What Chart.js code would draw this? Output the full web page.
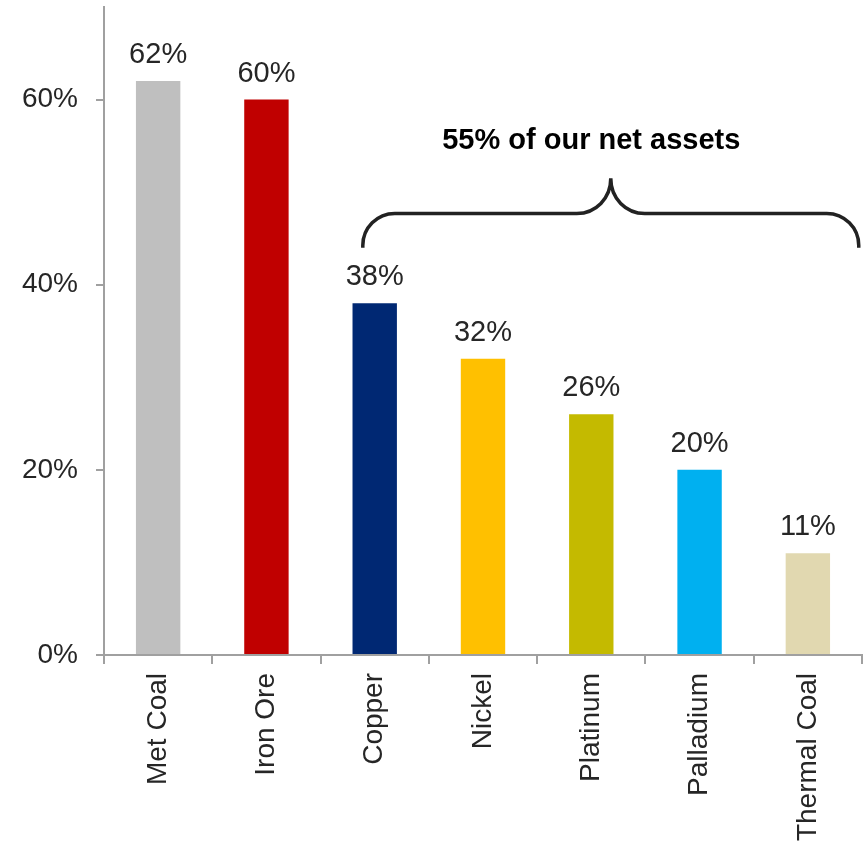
<!DOCTYPE html>
<html>
<head>
<meta charset="utf-8">
<script src="https://cdn.jsdelivr.net/npm/chart.js@4.4.1/dist/chart.umd.min.js"></script>
<style>
  html, body { margin: 0; padding: 0; background: #fff; }
  #wrap { width: 867px; height: 852px; }
</style>
</head>
<body>
<div id="wrap"><canvas id="myChart" width="867" height="852"></canvas></div>
<script>
  'use strict'

  const commodities = ['Met Coal', 'Iron Ore', 'Copper', 'Nickel', 'Platinum', 'Palladium', 'Thermal Coal']
  const shares = [62, 60, 38, 32, 26, 20, 11]
  const barColors = ['#BFBFBF', '#C00000', '#002873', '#FFC000', '#C4BA00', '#00B0F0', '#E1D8B0']
  const yTicks = [0, 20, 40, 60]
  const braceText = '55% of our net assets'

  const axisGray = '#A0A0A0'
  const fontFamily = '"Liberation Sans", Arial, sans-serif'

  // value labels over each bar
  const barLabels = {
    id: 'barLabels',
    afterDatasetsDraw(chart) {
      const ctx = chart.ctx
      const meta = chart.getDatasetMeta(0)
      ctx.save()
      ctx.font = '29px ' + fontFamily
      ctx.fillStyle = '#262626'
      ctx.textAlign = 'center'
      ctx.textBaseline = 'alphabetic'
      meta.data.forEach((bar, i) => {
        ctx.fillText(shares[i] + '%', bar.x, bar.y - 18)
      })
      ctx.restore()
    }
  }

  // curly brace over Copper .. Thermal Coal with its caption
  const brace = {
    id: 'brace',
    afterDraw(chart) {
      const x = chart.scales.x
      const y = chart.scales.y
      const ctx = chart.ctx
      const xL = x.getPixelForValue(1.89)
      const xR = x.getPixelForValue(6.47)
      const xM = (xL + xR) / 2
      const yB = y.getPixelForValue(44)
      const yH = y.getPixelForValue(47.7)
      const yP = y.getPixelForValue(51.5)
      const r = 32
      const k = 34

      ctx.save()
      ctx.strokeStyle = '#222'
      ctx.lineWidth = 3.5
      ctx.beginPath()
      ctx.moveTo(xL, yB)
      ctx.arcTo(xL, yH, xL + r, yH, r)
      ctx.lineTo(xM - k, yH)
      ctx.bezierCurveTo(xM - k + 19, yH, xM, yH - 15, xM, yP)
      ctx.bezierCurveTo(xM, yH - 15, xM + k - 19, yH, xM + k, yH)
      ctx.lineTo(xR - r, yH)
      ctx.arcTo(xR, yH, xR, yB, r)
      ctx.lineTo(xR, yB)
      ctx.stroke()

      ctx.font = 'bold 29px ' + fontFamily
      ctx.fillStyle = '#000'
      ctx.textAlign = 'center'
      ctx.textBaseline = 'alphabetic'
      ctx.fillText(braceText, x.getPixelForValue(4), y.getPixelForValue(54.7))
      ctx.restore()
    }
  }

  const ctx = document.getElementById('myChart')
  // eslint-disable-next-line no-unused-vars
  const myChart = new Chart(ctx, {
    type: 'bar',
    data: {
      labels: commodities,
      datasets: [{
        data: shares,
        backgroundColor: barColors,
        borderWidth: 0,
        barPercentage: 0.82,
        categoryPercentage: 0.5
      }]
    },
    options: {
      responsive: false,
      animation: false,
      layout: { padding: { top: 7, right: 5, left: 0, bottom: 0 } },
      plugins: {
        legend: { display: false },
        tooltip: { enabled: false }
      },
      scales: {
        x: {
          grid: {
            display: true,
            offset: true,
            drawOnChartArea: false,
            drawTicks: true,
            tickLength: 9,
            color: axisGray,
            lineWidth: 2
          },
          border: { display: true, color: axisGray, width: 2 },
          ticks: {
            color: '#262626',
            font: { family: fontFamily, size: 28 },
            minRotation: 90,
            maxRotation: 90,
            padding: 9,
            autoSkip: false
          },
          afterFit(scale) {
            scale.height = 197
          }
        },
        y: {
          min: 0,
          max: 70,
          grid: {
            display: true,
            drawOnChartArea: false,
            drawTicks: true,
            tickLength: 8,
            color: axisGray,
            lineWidth: 2
          },
          border: { display: true, color: axisGray, width: 2 },
          ticks: {
            color: '#262626',
            font: { family: fontFamily, size: 28 },
            padding: 18,
            callback: v => v + '%'
          },
          afterBuildTicks(scale) {
            scale.ticks = yTicks.map(v => ({ value: v }))
          },
          afterFit(scale) {
            scale.width = 104
            scale.paddingTop = 0
          }
        }
      }
    },
    plugins: [barLabels, brace]
  })
</script>
</body>
</html>
